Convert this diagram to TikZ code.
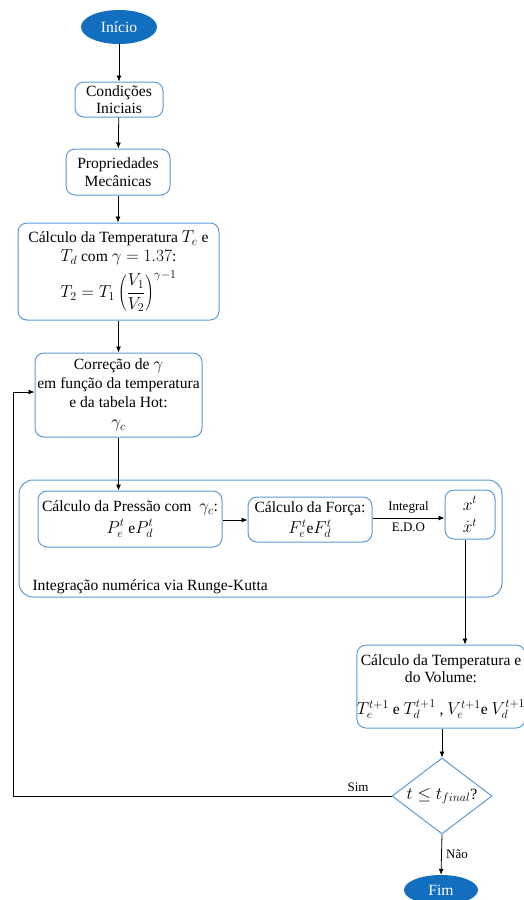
\documentclass[tikz,border=0pt]{standalone}
\usepackage{fontspec}
\setmainfont{Liberation Serif}
\DeclareMathSizes{15.6}{17.5}{12.5}{10}
\usetikzlibrary{shapes.geometric,arrows.meta}
\definecolor{boxblue}{RGB}{91,155,213}
\definecolor{termblue}{RGB}{18,110,190}
\begin{document}
\begin{tikzpicture}[x=1pt,y=-1pt,
  every node/.style={font=\fontsize{15.6}{17.5}\selectfont},
  proc/.style={draw=boxblue, line width=1pt, rounded corners=9pt, align=center, inner sep=0pt},
  term/.style={ellipse, fill=termblue, text=white, inner sep=0pt},
  decision/.style={diamond, draw=boxblue, line width=1pt, inner sep=0pt, aspect=1.3},
  arr/.style={-{Latex[length=6pt,width=5pt]}, line width=0.8pt},
  small/.style={font=\fontsize{13}{14}\selectfont}]
\useasboundingbox (0,0) rectangle (523,900);

% main column
\node[term, minimum width=76pt, minimum height=34pt] (ini) at (119,27) {Início};
\node[proc, minimum width=88pt, minimum height=35pt] (cond) at (119,99.5) {Condições\\Iniciais};
\node[proc, minimum width=104pt, minimum height=46pt] (prop) at (118,172) {Propriedades\\Mecânicas};
\node[proc, minimum width=201pt, minimum height=97pt] (temp) at (118.5,271.5)
  {Cálculo da Temperatura $T_e$ e\\[1pt] $T_d$ com $\gamma=1.37$:\\[5pt]
   $\displaystyle T_2=T_1\left(\frac{V_1}{V_2}\right)^{\gamma-1}$};
\node[proc, minimum width=167pt, minimum height=84pt] (corr) at (118.5,395)
  {Correção de $\gamma$\\[1.5pt] em função da temperatura\\[1.5pt] e da tabela Hot:\\[2pt] $\gamma_c$};

% Runge-Kutta group
\node[draw=boxblue, line width=1pt, rounded corners=14pt, minimum width=483pt, minimum height=117pt, inner sep=0pt] (grp) at (260.5,538.5) {};
\node[anchor=west] (grplbl) at (29,587) {Integração numérica via Runge-Kutta};
\node[proc, minimum width=184pt, minimum height=56pt] (pres) at (130,519)
  {Cálculo da Pressão com\ \ $\gamma_c$:\\[4pt] $P_e^t$ e$P_d^t$};
\node[proc, minimum width=124pt, minimum height=45pt] (forca) at (310,519.5)
  {Cálculo da Força:\\[4pt] $F_e^t$e$F_d^t$};
\node[proc, minimum width=50pt, minimum height=49pt] (xbox) at (470,514.5)
  {$x^t$\\[5pt] $\dot{x}^t$};

% update and test
\node[proc, minimum width=162pt, minimum height=83pt] (tv) at (441,686.5)
  {Cálculo da Temperatura e\\ do Volume:\\[14pt]
   $T_e^{t+1}$ e $T_d^{t+1}$ , $V_e^{t+1}$e $V_d^{t+1}$};
\node[decision, minimum width=100pt, minimum height=76pt] (dia) at (442,796) {$t\leq t_{final}$?};
\node[term, minimum width=74pt, minimum height=30pt] (fim) at (441,890) {Fim};

% connectors
\draw[arr] (ini) -- (cond);
\draw[arr] (cond) -- (prop);
\draw[arr] (prop.south) -- (prop.south |- temp.north);
\draw[arr] (temp.south) -- (temp.south |- corr.north);
\draw[arr] (corr.south) -- (corr.south |- pres.north);
\draw[arr] (pres.east |- 0,520) -- (forca.west |- 0,520);
\draw[arr] (forca.east |- 0,518) -- node[above, small, yshift=1pt] {Integral} node[below, small, yshift=-1pt] {E.D.O} (xbox.west |- 0,518);
\coordinate (xout) at ([xshift=-5pt]xbox.south);
\draw[arr] (xout) -- (xout |- tv.north);
\draw[arr] (tv.south -| dia.north) -- (dia.north);
\draw[arr] (dia.south) -- node[right, small, xshift=1pt] {Não} (fim.north);
\coordinate (loopc) at (13,392);
\draw[arr] (dia.west) -| (loopc) -- (loopc -| corr.west);
\node[small] (sim) at (358,787) {Sim};
\end{tikzpicture}
\end{document}
